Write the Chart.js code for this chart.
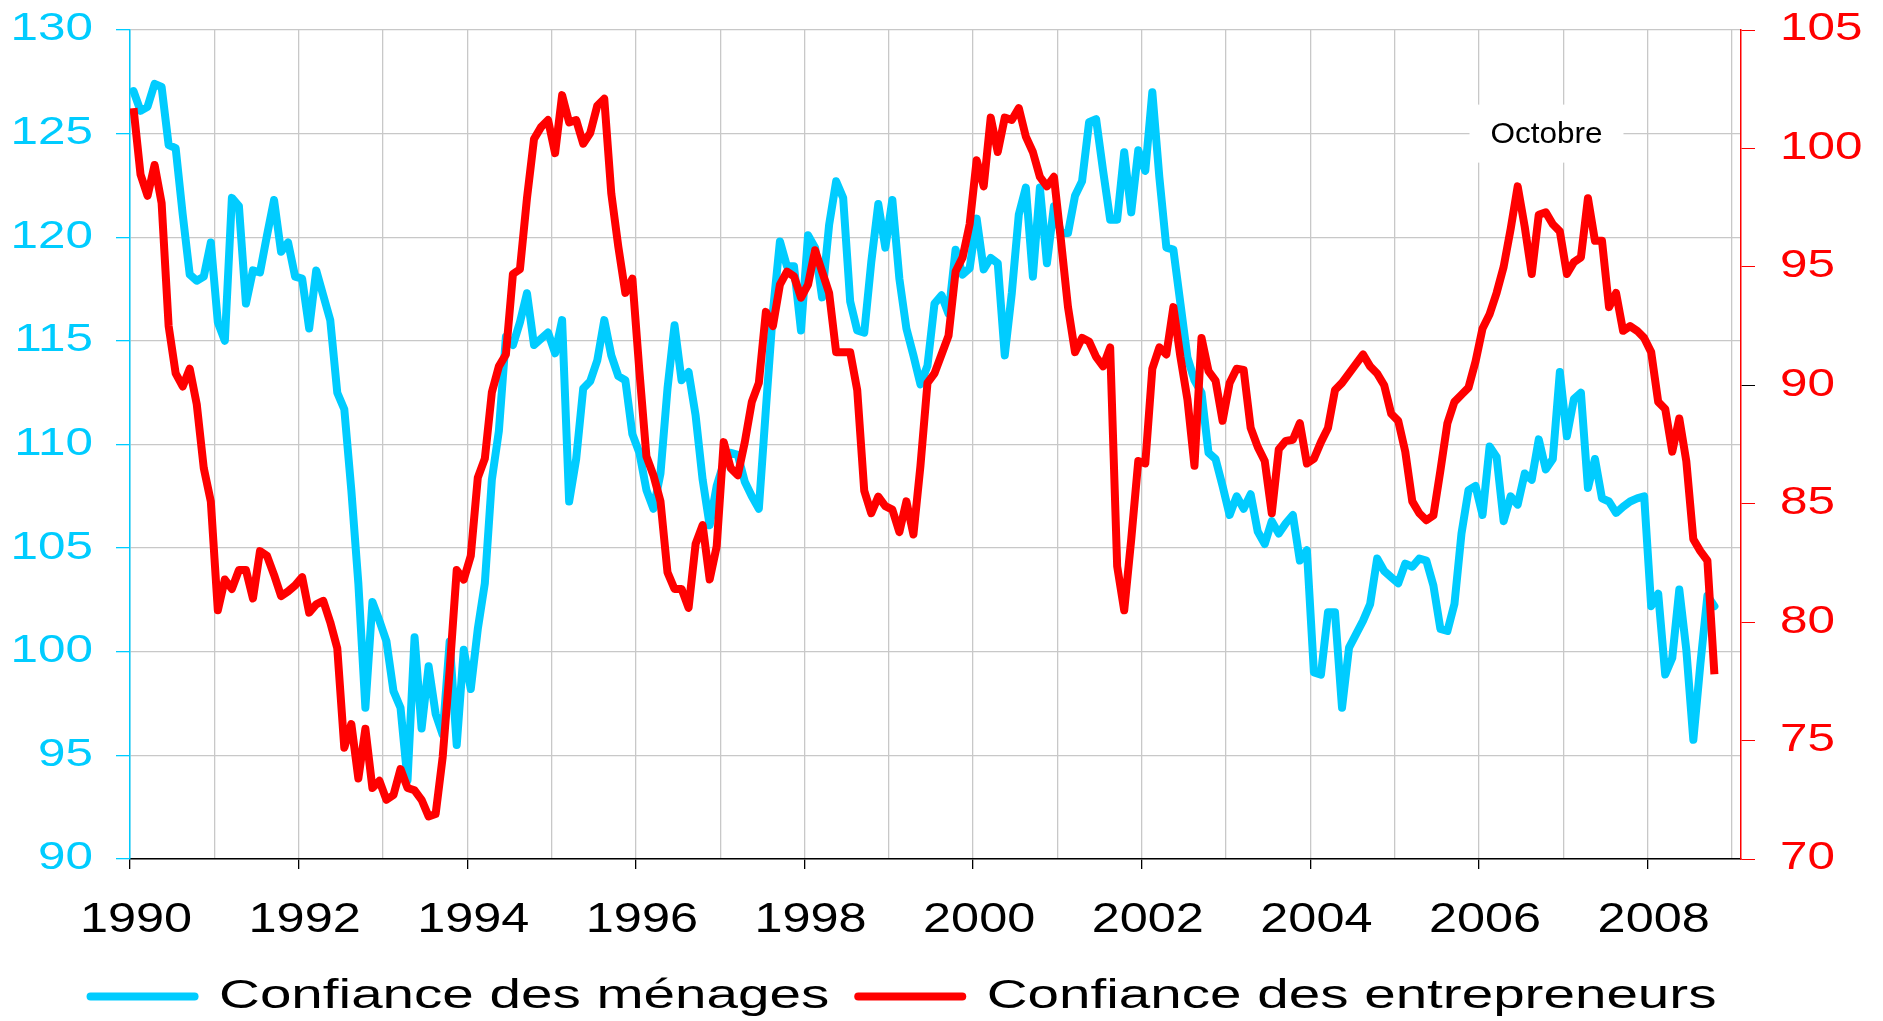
<!DOCTYPE html>
<html lang="fr">
<head>
<meta charset="utf-8">
<title>Confiance des ménages et des entrepreneurs</title>
<script src="https://cdn.jsdelivr.net/npm/chart.js@4.4.1/dist/chart.umd.min.js"></script>
<style>
  html, body { margin: 0; padding: 0; background: #fff; }
</style>
</head>
<body>
<canvas id="chartConfiance" width="1883" height="1021"></canvas>
<script>
// series mensuelles, janvier 1990 -> octobre 2008
var premiereAnnee = 1990;

var menages = [
  127.05, 126.1, 126.3, 127.4, 127.25, 124.45, 124.3, 121.1, 118.2, 117.9, 118.1, 119.75,
  115.9, 115.0, 121.9, 121.5, 116.8, 118.4, 118.3, 120.1, 121.8, 119.3, 119.75, 118.1,
  118.0, 115.6, 118.4, 117.2, 116.0, 112.5, 111.7, 107.8, 103.3, 97.3, 102.4, 101.5,
  100.5, 98.1, 97.3, 93.8, 100.7, 96.3, 99.3, 97.0, 96.0, 100.5, 95.5, 100.1,
  98.2, 101.1, 103.3, 108.3, 110.65, 115.2, 114.8, 115.9, 117.3, 114.8, 115.1, 115.4,
  114.4, 116.0, 107.25, 109.3, 112.7, 113.05, 114.05, 116.0, 114.3, 113.3, 113.1, 110.5,
  109.6, 107.8, 106.9, 108.6, 112.7, 115.75, 113.1, 113.5, 111.4, 108.3, 106.1, 108.0,
  109.1, 109.6, 109.5, 108.2, 107.5, 106.9, 111.7, 116.4, 119.8, 118.6, 118.6, 115.5,
  120.1, 119.5, 117.1, 120.6, 122.7, 121.9, 116.9, 115.5, 115.4, 118.8, 121.6, 119.5,
  121.8, 118.0, 115.6, 114.3, 112.9, 113.8, 116.8, 117.2, 116.3, 119.4, 118.2, 118.5,
  120.9, 118.45, 119.0, 118.75, 114.3, 117.3, 121.1, 122.4, 118.1, 122.4, 118.75, 121.5,
  120.2, 120.2, 122.0, 122.7, 125.55, 125.7, 123.2, 120.85, 120.85, 124.1, 121.2, 124.2,
  123.2, 127.0, 122.9, 119.5, 119.4, 116.8, 114.2, 113.1, 112.5, 109.6, 109.3, 108.0,
  106.6, 107.5, 106.9, 107.6, 105.8, 105.2, 106.3, 105.7, 106.2, 106.6, 104.4, 104.9,
  99.0, 98.9, 101.9, 101.9, 97.3, 100.2, 100.85, 101.5, 102.3, 104.5, 103.9, 103.6,
  103.3, 104.25, 104.1, 104.5, 104.4, 103.2, 101.1, 101.0, 102.3, 105.7, 107.8, 108.0,
  106.6, 109.9, 109.4, 106.3, 107.5, 107.1, 108.6, 108.3, 110.25, 108.8, 109.3, 113.5,
  110.4, 112.2, 112.5, 107.9, 109.3, 107.4, 107.25, 106.7, 107.0, 107.25, 107.4, 107.5,
  102.2, 102.8, 98.9, 99.7, 103.0, 100.1, 95.75, 99.4, 102.7, 102.2
];

var entrepreneurs = [
  101.7, 98.9, 98.0, 99.3, 97.7, 92.5, 90.5, 89.95, 90.7, 89.2, 86.5, 85.1,
  80.5, 81.8, 81.4, 82.2, 82.2, 81.0, 83.0, 82.8, 82.0, 81.1, 81.3, 81.55,
  81.9, 80.4, 80.75, 80.9, 80.0, 78.9, 74.7, 75.7, 73.4, 75.5, 73.0, 73.3,
  72.5, 72.7, 73.8, 73.0, 72.9, 72.5, 71.8, 71.9, 74.3, 78.0, 82.2, 81.8,
  82.8, 86.1, 86.9, 89.7, 90.8, 91.3, 94.7, 94.9, 97.9, 100.4, 100.9, 101.2,
  99.8, 102.25, 101.1, 101.2, 100.2, 100.65, 101.8, 102.1, 98.1, 95.85, 93.9, 94.5,
  90.6, 87.0, 86.2, 85.1, 82.1, 81.4, 81.4, 80.6, 83.3, 84.1, 81.8, 83.2,
  87.6, 86.5, 86.2, 87.6, 89.3, 90.1, 93.1, 92.5, 94.25, 94.8, 94.6, 93.7,
  94.25, 95.7, 94.8, 93.9, 91.4, 91.4, 91.4, 89.8, 85.55, 84.6, 85.3, 84.9,
  84.75, 83.8, 85.1, 83.7, 86.6, 90.1, 90.5, 91.3, 92.1, 94.8, 95.4, 96.8,
  99.5, 98.4, 101.3, 99.85, 101.3, 101.2, 101.7, 100.5, 99.85, 98.8, 98.4, 98.8,
  96.1, 93.3, 91.4, 92.0, 91.85, 91.2, 90.8, 91.6, 82.35, 80.5, 83.5, 86.8,
  86.7, 90.7, 91.6, 91.3, 93.3, 91.2, 89.4, 86.6, 92.0, 90.6, 90.2, 88.5,
  90.1, 90.7, 90.65, 88.2, 87.4, 86.8, 84.6, 87.3, 87.65, 87.7, 88.4, 86.7,
  86.9, 87.6, 88.2, 89.8, 90.1, 90.5, 90.9, 91.3, 90.8, 90.5, 90.0, 88.8,
  88.5, 87.2, 85.1, 84.6, 84.3, 84.5, 86.4, 88.4, 89.3, 89.6, 89.9, 91.0,
  92.4, 93.0, 93.9, 95.0, 96.6, 98.4, 96.7, 94.7, 97.2, 97.3, 96.8, 96.5,
  94.7, 95.2, 95.4, 97.9, 96.1, 96.1, 93.3, 93.9, 92.3, 92.5, 92.3, 92.0,
  91.4, 89.3, 89.0, 87.2, 88.6, 86.8, 83.5, 83.0, 82.6, 77.8
];

var annees = [1990, 1992, 1994, 1996, 1998, 2000, 2002, 2004, 2006, 2008];
var noteTexte = 'Octobre';
var noteX = 2006.8;
var noteY = 125;

var bleu = '#00ccff';
var rouge = '#ff0000';
var police = '"Liberation Sans", Arial, sans-serif';

function points(serie) {
  return serie.map(function (v, i) {
    return { x: premiereAnnee + (i + 0.5) / 12, y: v };
  });
}

// the original picture has its text stretched sideways
function etirement(t) {
  t = String(t);
  if (t.indexOf('Confiance') === 0) return 1.38;
  if (/^\d{4}$/.test(t)) return 1.2;
  if (/^\d{2,3}$/.test(t)) return 1.3;
  if (t === noteTexte) return 1.05;
  return 1;
}

var canvas = document.getElementById('chartConfiance');
var ctx = canvas.getContext('2d');
var baseFill = ctx.fillText;
var baseMeasure = ctx.measureText;
ctx.fillText = function (text, x, y, maxWidth) {
  var k = etirement(text);
  if (k === 1) {
    if (maxWidth === undefined) baseFill.call(this, text, x, y);
    else baseFill.call(this, text, x, y, maxWidth);
    return;
  }
  this.save();
  this.translate(x, y);
  this.scale(k, 1);
  baseFill.call(this, text, 0, 0);
  this.restore();
};
ctx.measureText = function (text) {
  var m = baseMeasure.call(this, text);
  var k = etirement(text);
  if (k === 1) return m;
  return {
    width: m.width * k,
    actualBoundingBoxLeft: m.actualBoundingBoxLeft * k,
    actualBoundingBoxRight: m.actualBoundingBoxRight * k,
    actualBoundingBoxAscent: m.actualBoundingBoxAscent,
    actualBoundingBoxDescent: m.actualBoundingBoxDescent,
    fontBoundingBoxAscent: m.fontBoundingBoxAscent,
    fontBoundingBoxDescent: m.fontBoundingBoxDescent
  };
};

var notePlugin = {
  id: 'note',
  beforeDatasetsDraw: function (chart) {
    var c = chart.ctx;
    var x = chart.scales.x.getPixelForValue(noteX);
    var y = chart.scales.y.getPixelForValue(noteY);
    c.save();
    c.fillStyle = '#ffffff';
    c.fillRect(x - 77, y - 29, 154, 58);
    c.font = '30px ' + police;
    c.fillStyle = '#000000';
    c.textAlign = 'center';
    c.textBaseline = 'middle';
    c.fillText(noteTexte, x, y + 1);
    c.restore();
  }
};

// legend sits a little lower and to the left in the original
var legendePlace = {
  id: 'legendePlace',
  afterLayout: function (chart) {
    var lg = chart.legend;
    if (!lg) return;
    lg.top += 6;
    lg.bottom += 6;
    lg.left -= 40;
    lg.right -= 40;
  }
};

function sansMarge(s) {
  s.paddingTop = 0;
  s.paddingBottom = 0;
  s.paddingLeft = 0;
  s.paddingRight = 0;
}

Chart.defaults.font.family = police;

var graphique = new Chart(ctx, {
  type: 'line',
  data: {
    datasets: [{
      label: 'Confiance des ménages',
      data: points(menages),
      yAxisID: 'y',
      borderColor: bleu,
      backgroundColor: bleu,
      borderWidth: 8,
      borderJoinStyle: 'round',
      borderCapStyle: 'round',
      pointRadius: 0,
      tension: 0,
      order: 1
    }, {
      label: 'Confiance des entrepreneurs',
      data: points(entrepreneurs),
      yAxisID: 'y1',
      borderColor: rouge,
      backgroundColor: rouge,
      borderWidth: 8,
      borderJoinStyle: 'round',
      borderCapStyle: 'butt',
      pointRadius: 0,
      tension: 0,
      order: 0
    }]
  },
  options: {
    responsive: false,
    devicePixelRatio: 1,
    animation: false,
    layout: { padding: { top: 30, right: 0, bottom: 0, left: 0 } },
    plugins: {
      tooltip: { enabled: false },
      legend: {
        position: 'bottom',
        labels: {
          color: '#000000',
          font: { size: 41 },
          boxWidth: 112,
          boxHeight: 8,
          padding: 25,
          useBorderRadius: true,
          borderRadius: 4,
          generateLabels: function (chart) {
            var items = Chart.defaults.plugins.legend.labels.generateLabels(chart);
            items.forEach(function (it) {
              it.fillStyle = it.strokeStyle;
              it.lineWidth = 0;
            });
            return items.sort(function (a, b) { return a.datasetIndex - b.datasetIndex; });
          }
        }
      }
    },
    scales: {
      x: {
        type: 'linear',
        position: 'bottom',
        min: 1990,
        max: 2009.107,
        afterFit: function (s) { s.height = 86; sansMarge(s); },
        ticks: {
          stepSize: 1,
          includeBounds: false,
          autoSkip: false,
          maxRotation: 0,
          padding: 26,
          labelOffset: 6,
          color: '#000000',
          font: { size: 42 },
          callback: function (v) { return annees.indexOf(v) >= 0 ? String(v) : ''; }
        },
        grid: {
          color: '#c8c8c8',
          lineWidth: 1.3,
          tickLength: 10,
          tickColor: function (c) {
            return c.tick && annees.indexOf(c.tick.value) >= 0 ? '#000000' : 'rgba(0,0,0,0)';
          }
        },
        border: { color: '#000000', width: 1.5 }
      },
      y: {
        position: 'left',
        min: 90,
        max: 130,
        afterFit: function (s) { s.width = 130; sansMarge(s); },
        ticks: { stepSize: 5, color: bleu, font: { size: 38 }, padding: 23 },
        grid: { color: '#c8c8c8', lineWidth: 1.3, tickColor: bleu, tickLength: 14 },
        border: { color: bleu, width: 1.5 }
      },
      y1: {
        position: 'right',
        min: 70,
        max: 105,
        afterFit: function (s) { s.width = 142; sansMarge(s); },
        ticks: { stepSize: 5, color: rouge, font: { size: 38 }, padding: 25 },
        grid: {
          drawOnChartArea: false,
          tickLength: 14,
          tickColor: function (c) { return c.tick && c.tick.value === 90 ? '#000000' : rouge; }
        },
        border: { color: rouge, width: 1.5 }
      }
    }
  },
  plugins: [notePlugin, legendePlace]
});
</script>
</body>
</html>
